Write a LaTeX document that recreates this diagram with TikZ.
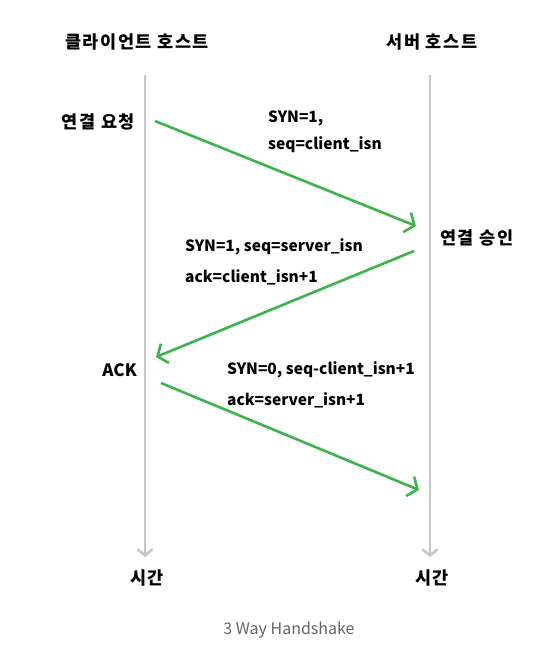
\documentclass[tikz,border=0pt]{standalone}
\usepackage{fontspec}
\setmainfont{Noto Sans CJK KR}
\newfontfamily\krwide{Noto Sans CJK KR}[LetterSpace=9]
\usetikzlibrary{arrows.meta}
\definecolor{msggreen}{RGB}{60,180,75}
\definecolor{linegray}{RGB}{198,198,198}
\definecolor{capgray}{RGB}{100,100,100}
\begin{document}
\begin{tikzpicture}[x=1pt,y=-1pt,
  lbl/.style={font=\fontsize{15.5}{17}\selectfont\bfseries, text=black, inner sep=0pt},
  kr/.style={font=\krwide\fontsize{17.5}{19}\selectfont\bfseries, text=black, inner sep=0pt},
  msg/.style={lbl, anchor=west},
  timeline/.style={draw=linegray, line width=2.8pt, -{Straight Barb[length=6pt,width=15pt,line width=2.6pt]}},
  msgarrow/.style={draw=msggreen, line width=2.6pt, -{Straight Barb[length=8pt,width=21pt,line width=2.6pt]}}]
\useasboundingbox (0,0) rectangle (553,660);
\fill[white] (0,0) rectangle (553,660);
% headers
\node[kr] (client) at (137,42) {클라이언트 호스트};
\node[kr] (server) at (432,42) {서버 호스트};
% timelines
\coordinate (ctop) at (145,75);
\coordinate (cbot) at (145,557);
\coordinate (stop) at (430,75);
\coordinate (sbot) at (430,557);
\draw[timeline] (ctop) -- (cbot);
\draw[timeline] (stop) -- (sbot);
\node[kr] (ctime) at (147,578) {시간};
\node[kr] (stime) at (432,578) {시간};
% side labels
\node[kr, anchor=east] (req) at (135,122) {연결 요청};
\node[kr, anchor=west] (acc) at (440,238) {연결 승인};
\node[lbl, font=\fontsize{17}{19}\selectfont\bfseries, anchor=east] (ack) at (137,370) {ACK};
% message arrows
\coordinate (m1s) at (155,121);
\coordinate (m1e) at (416,226);
\coordinate (m2s) at (414,251);
\coordinate (m2e) at (156,357);
\coordinate (m3s) at (161,383);
\coordinate (m3e) at (419,490);
\draw[msgarrow] (m1s) -- (m1e);
\draw[msgarrow] (m2s) -- (m2e);
\draw[msgarrow] (m3s) -- (m3e);
% message texts
\node[msg] (t1a) at (268,118) {SYN=1,};
\node[msg] (t1b) at (268,145) {seq=client\_isn};
\node[msg] (t2a) at (185,247) {SYN=1, seq=server\_isn};
\node[msg] (t2b) at (185,277) {ack=client\_isn+1};
\node[msg] (t3a) at (227,370) {SYN=0, seq-client\_isn+1};
\node[msg] (t3b) at (227,400) {ack=server\_isn+1};
% caption
\node[font=\fontsize{16}{18}\selectfont, text=capgray, inner sep=0pt] (cap) at (289,630) {3 Way Handshake};
\end{tikzpicture}
\end{document}
